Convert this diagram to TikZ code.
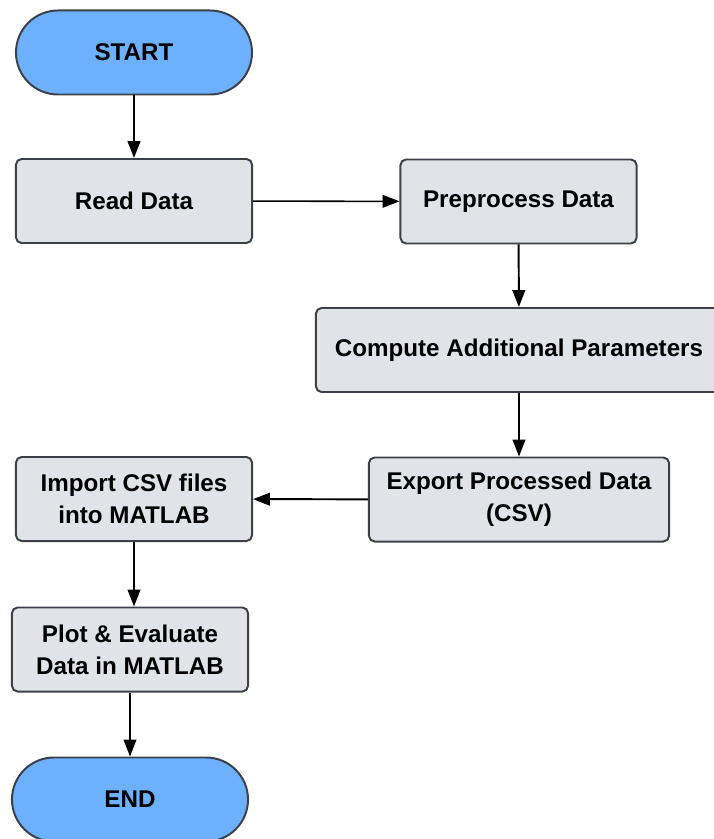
\documentclass[tikz,border=0pt]{standalone}
\usepackage{fontspec}
\setmainfont{Liberation Sans}
\usetikzlibrary{arrows.meta}

\definecolor{termblue}{RGB}{108,176,254}
\definecolor{procgray}{RGB}{224,227,232}
\definecolor{edgegray}{RGB}{60,64,72}

\tikzset{
  terminal/.style={draw=edgegray, line width=1.4pt, fill=termblue, rounded corners=1.05cm,
    minimum width=5.9cm, minimum height=2.1cm, font=\bfseries\fontsize{17.2}{22}\selectfont},
  procbox/.style={draw=edgegray, line width=1.4pt, fill=procgray, rounded corners=4pt,
    minimum width=5.9cm, minimum height=2.1cm, align=center,
    font=\bfseries\fontsize{17.2}{22.7}\selectfont},
  flow/.style={->, line width=1.4pt},
}

\begin{document}
\begin{tikzpicture}[x=0.025cm, y=-0.025cm, >={Triangle[length=12pt,width=9pt]}]

  \useasboundingbox (0,0) rectangle (713,839);

  % Left column, top
  \node[terminal] (start) at (134,52.5) {START};
  \node[procbox] (read) at (134,201) {Read Data};

  % Right column
  \node[procbox] (prep) at (518.5,201.5) {Preprocess Data};
  \node[procbox, minimum width=10.15cm] (comp) at (519,350) {Compute Additional Parameters};
  \node[procbox, minimum width=7.5cm] (export) at (519,499.5) {Export Processed Data\\(CSV)};

  % Left column, bottom
  \node[procbox] (import) at (134,499) {Import CSV files\\into MATLAB};
  \node[procbox] (plot) at (130,649.5) {Plot \& Evaluate\\Data in MATLAB};
  \node[terminal] (end) at (130,799.5) {END};

  % Connectors
  \draw[flow] (start) -- (read);
  \draw[flow, line width=1.1pt] (read) -- (prep);
  \draw[flow] (prep) -- (comp);
  \draw[flow] (comp) -- (export);
  \draw[flow] (export) -- (import);
  \draw[flow] (import.south) -- (import.south |- plot.north);
  \draw[flow, line width=1.1pt] (plot) -- (end);

\end{tikzpicture}
\end{document}
